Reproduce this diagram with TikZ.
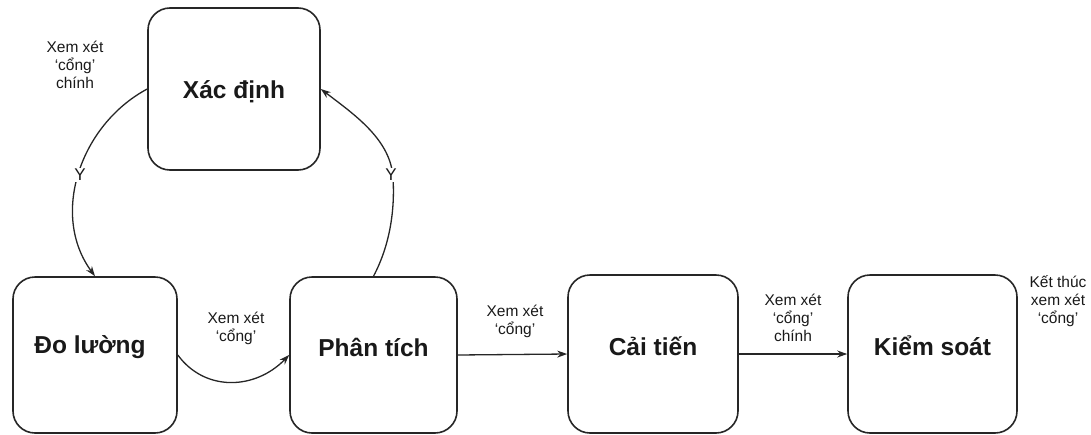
\documentclass[tikz,border=0pt]{standalone}
\usepackage{fontspec}
\setmainfont{Liberation Sans}
\usetikzlibrary{arrows.meta}
\newcommand{\liftup}[1]{\raisebox{8pt}[\height][\depth]{#1}}
\begin{document}
\begin{tikzpicture}[x=1pt,y=-1pt,
  stagebox/.style={draw=black!85, line width=1.6pt, rounded corners=22pt, inner sep=0pt,
    font=\fontsize{24.5}{28}\selectfont\bfseries, text=black!90},
  note/.style={font=\fontsize{15.5}{17.8}\selectfont, align=center, text=black!90, inner sep=1pt},
  ylab/.style={font=\fontsize{17}{18}\selectfont, fill=white, inner sep=1pt, text=black!90},
  flow/.style={draw=black!85, line width=1.3pt, -{Stealth[length=10pt,width=7pt]}},
  plain/.style={draw=black!85, line width=1.3pt}]
\useasboundingbox (0,0) rectangle (1091,434);
\node[stagebox, minimum width=172pt, minimum height=162pt] (xd) at (234,89) {\raisebox{-3pt}[\height][\depth]{Xác định}};
\node[stagebox, minimum width=164pt, minimum height=156pt] (dl) at (95,355) {\liftup{Đo lường\kern10pt}};
\node[stagebox, minimum width=167pt, minimum height=156pt] (pt) at (373.5,355) {\liftup{Phân tích}};
\node[stagebox, minimum width=170pt, minimum height=158pt] (ct) at (653,354) {\liftup{Cải tiến}};
\node[stagebox, minimum width=169pt, minimum height=158pt] (ks) at (932.5,354) {\liftup{Kiểm soát}};

% left arc: Xác định -> Đo lường
\draw[flow] (xd.west) .. controls (80,125) and (50,215) .. (dl.north);
\node[ylab] (y1) at (80,175) {Y};

% right arc: Phân tích -> Xác định
\coordinate (rm) at (393,178);
\draw[plain] (pt.north) .. controls (390,245) and (395,210) .. (rm);
\draw[flow] (rm) .. controls (391,140) and (355,115) .. (xd.east);
\node[ylab] (y2) at (391,175) {Y};

% Đo lường -> Phân tích
\draw[flow] (dl.east) .. controls (205,392) and (255,390) .. (pt.west);

\draw[flow] (pt.east) -- (ct.west);
\draw[flow] (ct.east) -- (ks.west);

\node[note] (n1) at (75,65) {Xem xét\\‘cổng’\\chính};
\node[note] (n2) at (236,328) {Xem xét\\‘cổng’};
\node[note] (n3) at (515,321) {Xem xét\\‘cổng’};
\node[note] (n4) at (793,318) {Xem xét\\‘cổng’\\chính};
\node[note] (n5) at (1058,301) {Kết thúc\\xem xét\\‘cổng’};
\end{tikzpicture}
\end{document}
